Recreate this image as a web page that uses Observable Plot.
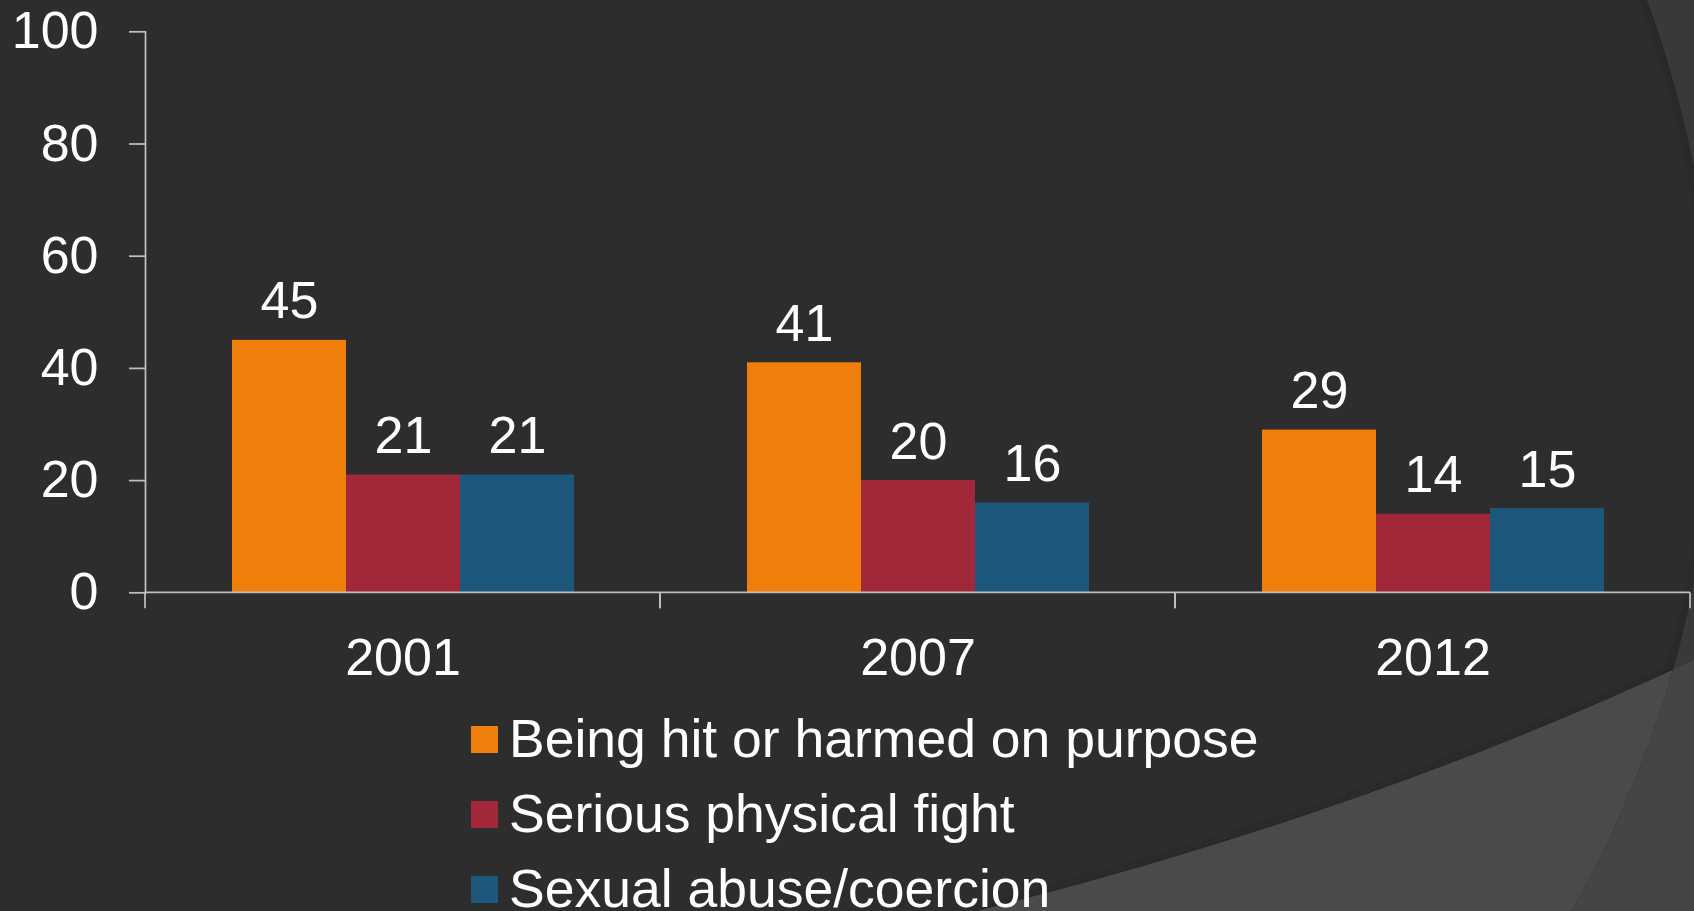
<!DOCTYPE html>
<html>
<head>
<meta charset="utf-8">
<script src="https://cdn.jsdelivr.net/npm/d3@7"></script>
<script src="https://cdn.jsdelivr.net/npm/@observablehq/plot@0.6"></script>
<style>
  html, body { margin: 0; padding: 0; overflow: hidden; background: #2d2d2d; width: 1694px; height: 911px; }
  #bg { position: absolute; left: 0; top: 0; z-index: 0; }
  #wrap { position: absolute; left: 0; top: 0; z-index: 1; width: 1694px; }
  #chart svg { display: block; }
  #chart svg text { fill: #ffffff; font-size: 52px; }
  #chart svg line, #chart svg path { stroke-width: 1.75px; }
  #legend { padding-left: 471px; font-family: "Liberation Sans", Arial, sans-serif; font-size: 53.5px; color: #fff; }
  .row { display: flex; align-items: flex-start; height: 75px; line-height: 75px; white-space: nowrap; }
  .sw { width: 27px; height: 27px; margin-top: 25px; margin-right: 11px; flex: none; }
</style>
</head>
<body>
<svg id="bg" width="1694" height="911">
  <defs>
    <clipPath id="circ"><circle cx="636" cy="375" r="1078"/></clipPath>
    <filter id="soft" x="-10%" y="-10%" width="120%" height="120%"><feGaussianBlur stdDeviation="4"/></filter>
  </defs>
  <rect width="1694" height="911" fill="#393939"/>
  <path d="M977 911 Q1368 813 1694 660 L1694 911 Z" fill="#454545"/>
  <circle cx="636" cy="375" r="1078" fill="#2d2d2d"/>
  <circle cx="636" cy="375" r="1082" fill="none" stroke="#1f1f1f" stroke-width="8" opacity="0.6" filter="url(#soft)" clip-path="url(#circ)"/>
  <g clip-path="url(#circ)">
    <path d="M977 915 Q1368 817 1698 664" fill="none" stroke="#1f1f1f" stroke-width="8" opacity="0.55" filter="url(#soft)"/>
    <path d="M977 911 Q1368 813 1694 660 L1694 911 Z" fill="#4a4a4a"/>
  </g>
</svg>
<div id="wrap">
  <div id="chart"></div>
  <div id="legend"></div>
</div>
<script>
// ---- data ----
const years = ["2001", "2007", "2012"];
const series = ["Being hit or harmed on purpose", "Serious physical fight", "Sexual abuse/coercion"];
const hitOrHarmed = [45, 41, 29];
const physicalFight = [21, 20, 14];
const sexualAbuse = [21, 16, 15];
const seriesColors = ["#EF7F0A", "#A12838", "#1D587C"];
const yTicks = [0, 20, 40, 60, 80, 100];

const valuesBySeries = [hitOrHarmed, physicalFight, sexualAbuse];
const data = years.flatMap((year, i) =>
  series.map((s, k) => ({year, series: s, value: valuesBySeries[k][i]}))
);

const axisColor = "#bfbfbf";

// x baseline with group boundary ticks, drawn in each facet from the scales
function baseline(index, scales, values, dimensions) {
  const r = scales.x && scales.x.range ? scales.x.range()
    : [dimensions.marginLeft, dimensions.width - dimensions.marginRight];
  const y0 = scales.y(0);
  const g = d3.create("svg:g").attr("stroke", axisColor).attr("stroke-width", 1.75);
  g.append("line").attr("x1", r[0]).attr("x2", r[1]).attr("y1", y0).attr("y2", y0);
  for (const x of r) g.append("line").attr("x1", x).attr("x2", x).attr("y1", y0).attr("y2", y0 + 16);
  return g.node();
}

const chart = Plot.plot({
  width: 1694,
  height: 701,
  marginLeft: 144,
  marginRight: 3,
  marginTop: 31.3,
  marginBottom: 108.7,
  style: {background: "transparent", color: axisColor, fontFamily: "'Liberation Sans', Arial, sans-serif", fontSize: "52px"},
  facet: {data, x: "year"},
  fx: {domain: years, padding: 0, label: null, axis: "bottom", tickSize: 0, tickPadding: 45},
  x: {domain: series, paddingInner: 0, paddingOuter: 0.75, axis: null},
  y: {domain: [0, 100], ticks: yTicks, tickSize: 16, tickPadding: 31, label: null, line: true},
  color: {domain: series, range: seriesColors},
  marks: [
    Plot.barY(data, {x: "series", y: "value", fill: "series"}),
    Plot.text(data, {x: "series", y: "value", text: d => String(d.value), lineAnchor: "bottom", dy: -22, fill: "#ffffff"}),
    baseline
  ]
});
document.getElementById("chart").appendChild(chart);

// legend below the chart
const legend = d3.select("#legend");
series.forEach((s, k) => {
  const row = legend.append("div").attr("class", "row");
  row.append("div").attr("class", "sw").style("background", seriesColors[k]);
  row.append("span").text(s);
});
</script>
</body>
</html>
